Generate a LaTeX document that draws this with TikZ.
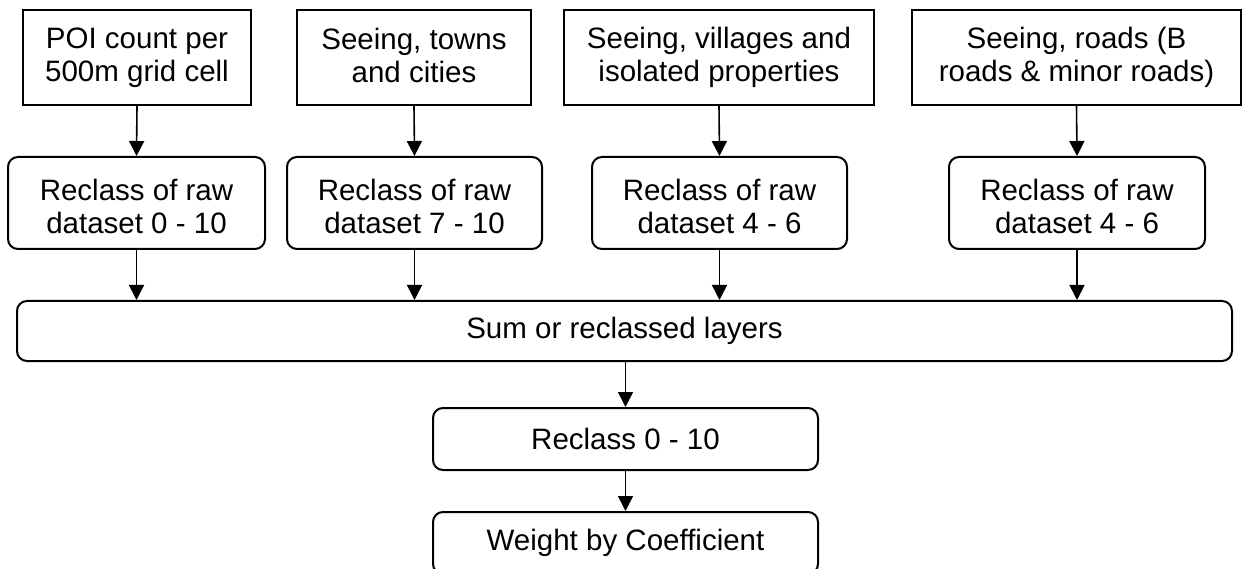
\documentclass[tikz,border=0pt]{standalone}
\usepackage{fontspec}
\setmainfont{Liberation Sans}
\usetikzlibrary{arrows.meta}
\newcommand\stA{\rule[-4.5pt]{0pt}{25.5pt}}
\newcommand\stB{\rule[-2.5pt]{0pt}{32.5pt}}
\newcommand\stC{\rule{0pt}{21pt}}
\begin{document}
\begin{tikzpicture}[x=1pt,y=-1pt,
  every node/.style={font=\fontsize{29.5}{33}\selectfont, align=center, inner sep=0pt},
  srcbox/.style={draw, line width=2pt, minimum height=95pt},
  rbox/.style={draw, line width=2pt, rounded corners=10pt},
  conn/.style={line width=1.6pt, -{Triangle[length=15pt,width=15pt]}}]
\useasboundingbox (0,0) rectangle (1242,569);
\clip (0,0) rectangle (1242,569);
\node[srcbox, minimum width=228pt] (b1) at (137,57.5) {\stA POI count per\\\stA 500m grid cell};
\node[srcbox, minimum width=234pt] (b2) at (414,57.5) {\stA Seeing, towns\\\stA and cities};
\node[srcbox, minimum width=310pt] (b3) at (719,57.5) {\stA Seeing, villages and\\\stA isolated properties};
\node[srcbox, minimum width=329pt] (b4) at (1076.5,57.5) {\stA Seeing, roads (B\\\stA roads \& minor roads)};
\node[rbox, minimum width=257pt, minimum height=92pt] (r1) at (136.5,203) {\stB Reclass of raw\\\stB dataset 0 - 10};
\node[rbox, minimum width=255pt, minimum height=92pt] (r2) at (414.5,203) {\stB Reclass of raw\\\stB dataset 7 - 10};
\node[rbox, minimum width=255pt, minimum height=92pt] (r3) at (719.5,203) {\stB Reclass of raw\\\stB dataset 4 - 6};
\node[rbox, minimum width=256pt, minimum height=92pt] (r4) at (1077,203) {\stB Reclass of raw\\\stB dataset 4 - 6};
\node[rbox, minimum width=1215pt, minimum height=60pt] (sum) at (624.5,331) {\stC Sum or reclassed layers};
\node[rbox, minimum width=385pt, minimum height=62pt] (rc) at (625.5,439) {\stC Reclass 0 - 10};
\node[rbox, minimum width=385pt, minimum height=62pt] (wt) at (625.5,543) {\stC Weight by Coefficient};
\foreach \i in {1,2,3,4}{
  \draw[conn] (b\i.south) -- (r\i.north);
  \draw[conn] (r\i.south) -- (r\i.south |- sum.north);
}
\draw[conn] (rc.north |- sum.south) -- (rc.north);
\draw[conn] (rc.south) -- (wt.north);
\end{tikzpicture}
\end{document}
